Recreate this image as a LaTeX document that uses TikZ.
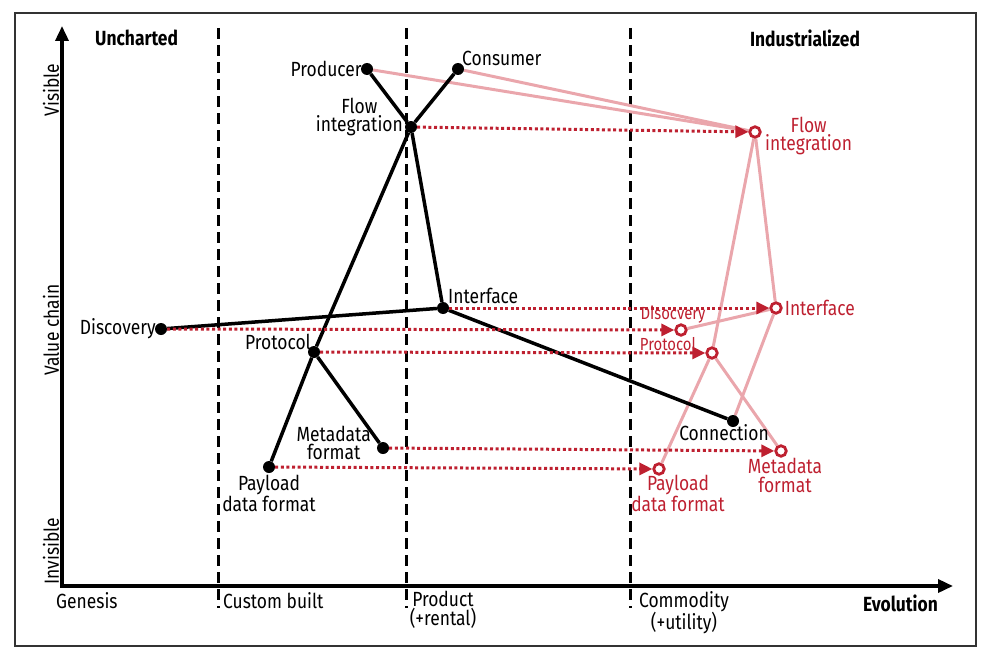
\documentclass[tikz,border=0pt]{standalone}
\usepackage{fontspec}
\setmainfont{Fira Sans}[FakeStretch=0.85]
\definecolor{flowred}{RGB}{190, 32, 48}
\definecolor{flowpink}{RGB}{234, 166, 172}
\usetikzlibrary{arrows.meta, positioning}
\pgfdeclarelayer{background}
\pgfsetlayers{background,main}

\begin{document}
\begin{tikzpicture}[x=1pt, y=-1pt,
  blackdot/.style={circle, fill=black, inner sep=0pt, minimum size=12pt},
  redring/.style={circle, draw=flowred, line width=2.8pt, fill=white, inner sep=0pt, minimum size=10.5pt},
  lbl/.style={font=\fontsize{20.5}{18.5}\selectfont, inner sep=1pt, align=center},
  redlbl/.style={lbl, text=flowred},
  smallred/.style={redlbl, font=\fontsize{17.5}{16}\selectfont},
  hdr/.style={font=\fontsize{20.5}{18}\selectfont\bfseries, inner sep=0pt, align=center},
  stage/.style={line width=3pt, dash pattern=on 11pt off 6pt},
  link/.style={line width=3.5pt},
  moved/.style={flowpink, line width=3pt},
  evolve/.style={flowred, line width=3pt, dash pattern=on 3pt off 2.6pt, -{Triangle[length=13pt, width=12pt]}}
]
  \useasboundingbox (0,0) rectangle (985,661);
  \draw[line width=1.4pt, black!80] (15,13) rectangle (976,646);

  \coordinate (ytop) at (62,26);
  \coordinate (origin) at (62,586);
  \coordinate (xend) at (953,586);
  \draw[line width=3.5pt, {Triangle[length=15pt, width=13pt]}-{Triangle[length=15pt, width=13pt]}] (ytop) -- (origin) -- (xend);

  \node[lbl, rotate=90] (visible) at (51,90) {Visible};
  \node[lbl, rotate=90] (valuechain) at (51,330) {Value chain};
  \node[lbl, rotate=90] (invisible) at (51,551) {Invisible};

  \node[hdr, anchor=west] (uncharted) at (95,38) {Uncharted};
  \node[hdr] (industrialized) at (805,38) {Industrialized};
  \node[lbl, anchor=west] (genesis) at (55,601) {Genesis};
  \node[lbl, anchor=west] (custom) at (222,601) {Custom built};
  \node[lbl, anchor=north] (product) at (443,590) {Product\\(+rental)};
  \node[lbl, anchor=north] (commodity) at (684,590) {Commodity\\(+utility)};
  \node[hdr, anchor=east] (evolution) at (938,603) {Evolution};

  \node[blackdot] (producer) at (367,69) {};
  \node[blackdot] (consumer) at (458,69) {};
  \node[blackdot] (flow) at (411,127) {};
  \node[blackdot] (interface) at (443,308) {};
  \node[blackdot] (discovery) at (161,329) {};
  \node[blackdot] (protocol) at (314,352) {};
  \node[blackdot] (metadata) at (383,448) {};
  \node[blackdot] (payload) at (269,467) {};
  \node[blackdot] (connection) at (733,421) {};

  \node[redring] (rflow) at (755,132) {};
  \node[redring] (rinterface) at (776,308) {};
  \node[redring] (rdiscovery) at (681,330) {};
  \node[redring] (rprotocol) at (712,353) {};
  \node[redring] (rmetadata) at (781,451) {};
  \node[redring] (rpayload) at (659,469) {};

  \node[lbl, left=-2pt of producer] (producerlbl) {Producer};
  \node[lbl, anchor=west] (consumerlbl) at (461,58) {Consumer};
  \node[lbl, anchor=east] (flowlbl) at (404,117) {Flow\\integration};
  \node[lbl, anchor=west] (interfacelbl) at (447,296) {Interface};
  \node[lbl, left=-2pt of discovery] (discoverylbl) {Discovery};
  \node[lbl, anchor=east] (protocollbl) at (312,342) {Protocol};
  \node[lbl, anchor=east] (metadatalbl) at (372,443) {Metadata\\format};
  \node[lbl, anchor=north] (payloadlbl) at (269,474) {Payload\\data format};
  \node[lbl, anchor=north] (connectionlbl) at (724,423) {Connection};

  \node[redlbl, anchor=west] (rflowlbl) at (764,136) {Flow\\integration};
  \node[redlbl, right=1pt of rinterface] (rinterfacelbl) {Interface};
  \node[smallred] (rdiscoverylbl) at (673,315) {Disocvery};
  \node[smallred] (rprotocollbl) at (668,344) {Protocol};
  \node[redlbl, anchor=north] (rmetadatalbl) at (785,457) {Metadata\\format};
  \node[redlbl, anchor=north] (rpayloadlbl) at (678,474) {Payload\\data format};

  \begin{pgfonlayer}{background}
    \foreach \x in {218, 406, 630}
      \draw[stage] (\x,28) -- (\x,608);
    \draw[moved] (producer) -- (rflow);
    \draw[moved] (consumer) -- (rflow);
    \draw[moved] (rflow) -- (rinterface);
    \draw[moved] (rflow) -- (rprotocol);
    \draw[moved] (rprotocol) -- (rpayload);
    \draw[moved] (rprotocol) -- (rmetadata);
    \draw[moved] (rinterface) -- (connection);
    \draw[moved] (rdiscovery) -- (rinterface);
    \draw[link] (producer) -- (flow);
    \draw[link] (consumer) -- (flow);
    \draw[link] (flow) -- (interface);
    \draw[link] (flow) -- (protocol);
    \draw[link] (protocol) -- (payload);
    \draw[link] (protocol) -- (metadata);
    \draw[link] (discovery) -- (interface);
    \draw[link] (interface) -- (connection);
  \end{pgfonlayer}

  \draw[evolve] (flow) -- (rflow);
  \draw[evolve] (interface) -- (rinterface);
  \draw[evolve] (discovery) -- (rdiscovery);
  \draw[evolve] (protocol) -- (rprotocol);
  \draw[evolve] (metadata) -- (rmetadata);
  \draw[evolve] (payload) -- (rpayload);
\end{tikzpicture}
\end{document}
